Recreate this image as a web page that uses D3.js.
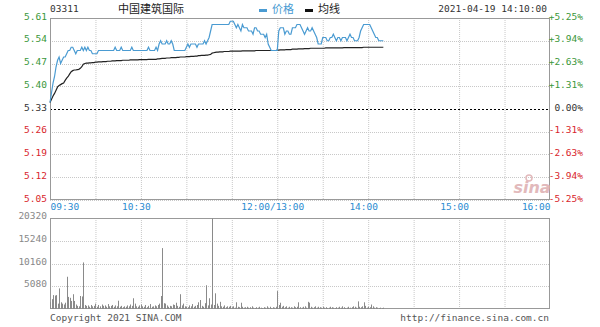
<!DOCTYPE html>
<html lang="zh">
<head>
<meta charset="utf-8">
<title>03311 中国建筑国际</title>
<script src="https://d3js.org/d3.v7.min.js"></script>
<style>
  body { margin: 0; background: #fff; }
  svg { display: block; }
</style>
</head>
<body>
<script>

// minute index from 09:30 (morning 0..150, afternoon continues at 150 = 13:00)
var priceVals = [
  5.35, 5.38, 5.41, 5.43, 5.46, 5.48, 5.49, 5.47, 5.48, 5.49,
  5.49, 5.50, 5.51, 5.51, 5.52, 5.52, 5.51, 5.50, 5.51, 5.51,
  5.51, 5.52, 5.51, 5.52, 5.51, 5.52, 5.51, 5.51, 5.50, 5.50,
  5.50, 5.50, 5.51, 5.51, 5.51, 5.51, 5.51, 5.51, 5.51, 5.51,
  5.51, 5.51, 5.51, 5.52, 5.51, 5.51, 5.51, 5.52, 5.51, 5.51,
  5.51, 5.51, 5.51, 5.51, 5.52, 5.51, 5.51, 5.51, 5.51, 5.51,
  5.51, 5.51, 5.51, 5.51, 5.51, 5.52, 5.51, 5.51, 5.51, 5.51,
  5.52, 5.51, 5.53, 5.54, 5.53, 5.53, 5.53, 5.54, 5.53, 5.53,
  5.54, 5.53, 5.51, 5.51, 5.51, 5.51, 5.51, 5.51, 5.51, 5.51,
  5.52, 5.53, 5.52, 5.53, 5.53, 5.53, 5.53, 5.52, 5.53, 5.53,
  5.53, 5.53, 5.54, 5.53, 5.54, 5.55, 5.57, 5.59, 5.59, 5.59,
  5.59, 5.59, 5.59, 5.59, 5.59, 5.59, 5.59, 5.59, 5.59, 5.60,
  5.60, 5.60, 5.59, 5.58, 5.59, 5.58, 5.57, 5.59, 5.58, 5.58,
  5.58, 5.57, 5.57, 5.57, 5.56, 5.58, 5.58, 5.57, 5.57, 5.56,
  5.56, 5.56, 5.55, 5.56, 5.53, 5.52, 5.51, 5.51, 5.51, 5.51,
  5.51, 5.57, 5.58, 5.58, 5.58, 5.56, 5.57, 5.57, 5.56, 5.56,
  5.58, 5.58, 5.58, 5.59, 5.59, 5.59, 5.58, 5.57, 5.56, 5.57,
  5.58, 5.57, 5.57, 5.58, 5.57, 5.56, 5.55, 5.53, 5.53, 5.53,
  5.55, 5.55, 5.55, 5.54, 5.54, 5.55, 5.55, 5.56, 5.55, 5.54,
  5.55, 5.55, 5.54, 5.55, 5.55, 5.55, 5.54, 5.55, 5.56, 5.55,
  5.55, 5.54, 5.54, 5.54, 5.55, 5.57, 5.58, 5.59, 5.59, 5.59,
  5.59, 5.59, 5.58, 5.57, 5.56, 5.55, 5.55, 5.54, 5.54, 5.54, 5.54
]

var avgVals = [
  5.350, 5.360, 5.370, 5.378, 5.388, 5.398, 5.402, 5.405, 5.408, 5.410,
  5.418, 5.425, 5.430, 5.438, 5.445, 5.448, 5.450, 5.450, 5.451, 5.452,
  5.455, 5.460, 5.468, 5.470, 5.471, 5.471, 5.472, 5.472, 5.473, 5.473,
  5.474, 5.474, 5.475, 5.475, 5.475, 5.476, 5.476, 5.476, 5.477, 5.477,
  5.477, 5.478, 5.478, 5.478, 5.479, 5.479, 5.479, 5.479, 5.480, 5.480,
  5.480, 5.480, 5.480, 5.481, 5.481, 5.481, 5.481, 5.481, 5.481, 5.482,
  5.482, 5.482, 5.482, 5.482, 5.482, 5.483, 5.483, 5.483, 5.483, 5.483,
  5.483, 5.484, 5.484, 5.485, 5.486, 5.486, 5.486, 5.487, 5.487, 5.487,
  5.488, 5.488, 5.488, 5.488, 5.489, 5.489, 5.490, 5.490, 5.490, 5.490,
  5.491, 5.491, 5.491, 5.492, 5.492, 5.492, 5.493, 5.493, 5.494, 5.494,
  5.495, 5.495, 5.495, 5.496, 5.496, 5.497, 5.498, 5.502, 5.503, 5.504,
  5.505, 5.505, 5.506, 5.506, 5.506, 5.507, 5.507, 5.507, 5.507, 5.508,
  5.508, 5.508, 5.508, 5.508, 5.508, 5.508, 5.508, 5.509, 5.509, 5.509,
  5.509, 5.509, 5.509, 5.509, 5.509, 5.509, 5.510, 5.510, 5.510, 5.510,
  5.510, 5.510, 5.510, 5.510, 5.510, 5.510, 5.510, 5.510, 5.510, 5.510,
  5.511, 5.511, 5.512, 5.512, 5.512, 5.512, 5.513, 5.513, 5.513, 5.513,
  5.514, 5.514, 5.514, 5.514, 5.515, 5.515, 5.515, 5.515, 5.516, 5.516,
  5.516, 5.516, 5.517, 5.517, 5.517, 5.517, 5.517, 5.517, 5.517, 5.517,
  5.517, 5.517, 5.518, 5.518, 5.518, 5.518, 5.518, 5.518, 5.518, 5.518,
  5.518, 5.518, 5.518, 5.518, 5.519, 5.519, 5.519, 5.519, 5.519, 5.519,
  5.519, 5.519, 5.519, 5.519, 5.519, 5.519, 5.519, 5.520, 5.520, 5.520,
  5.520, 5.520, 5.520, 5.520, 5.520, 5.520, 5.520, 5.520, 5.520, 5.520, 5.520
]

var volVals = [
  1500, 2200, 3100, 3000, 3100, 1200, 4600, 1500, 1200, 1000,
  1400, 7200, 2700, 2500, 1800, 3300, 1800, 1000, 700, 600,
  2900, 2800, 10400, 900, 700, 800, 500, 900, 600, 700,
  1200, 500, 900, 600, 1000, 700, 800, 500, 1100, 600,
  700, 900, 500, 800, 600, 1850, 500, 700, 400, 600,
  500, 800, 600, 1000, 700, 2400, 1200, 600, 500, 800,
  1000, 600, 500, 900, 400, 700, 1100, 500, 600, 800,
  600, 900, 1200, 2900, 13600, 1300, 1200, 800, 500, 700,
  600, 1000, 900, 1400, 700, 500, 3300, 800, 1200, 600,
  500, 400, 800, 600, 1100, 500, 700, 900, 1500, 2000,
  700, 500, 1300, 5300, 800, 2400, 1000, 20200, 900, 3500,
  1200, 700, 1600, 600, 500, 800, 400, 600, 500, 700,
  400, 600, 300, 1500, 500, 400, 1400, 500, 300, 400,
  500, 300, 400, 600, 300, 200, 400, 300, 500, 300,
  200, 400, 300, 600, 300, 500, 200, 400, 300, 500,
  4000, 900, 1400, 500, 700, 400, 600, 300, 500, 400,
  300, 600, 400, 500, 1500, 400, 300, 500, 600, 300,
  1600, 1400, 500, 300, 400, 600, 300, 500, 400, 300,
  500, 300, 400, 200, 300, 500, 400, 300, 200, 400,
  300, 500, 300, 600, 400, 200, 300, 500, 300, 400,
  600, 500, 300, 1700, 500, 400, 600, 1500, 700, 300,
  500, 400, 1000, 600, 300, 400, 300, 200, 300, 200, 300
]

var priceTicks = [5.61, 5.54, 5.47, 5.40, 5.33, 5.26, 5.19, 5.12, 5.05]
var pctTicks = ["+5.25%", "+3.94%", "+2.63%", "+1.31%", "0.00%", "-1.31%", "-2.63%", "-3.94%", "-5.25%"]
var timeTickMins = [0, 60, 150, 210, 270, 330]
var timeTickLabels = ["09:30", "10:30", "12:00/13:00", "14:00", "15:00", "16:00"]
var volTicks = [20320, 15240, 10160, 5080]
var prevClose = 5.33

var w = 600, h = 327
var mono = "'DejaVu Sans Mono', monospace"
var blue = "#4a9bd2", green = "#3b973b", red = "#d8262c"

var svg = d3.select("body").append("svg").attr("width", w).attr("height", h)

var x = d3.scaleLinear().domain([0, 330]).range([50, 550])
var yP = d3.scaleLinear().domain([5.05, 5.61]).range([200, 18])
var yV = d3.scaleLinear().domain([0, 20320]).range([309, 218])

function tickColor(v) {
    if (v > prevClose + 0.001) return green
    if (v < prevClose - 0.001) return red
    return "#333"
}

// grid
var gridMins = d3.range(30, 330, 30)
function vGrid(y0, y1) {
    svg.append("g").selectAll("line").data(gridMins).enter().append("line")
        .attr("x1", d => x(d) + 0.5).attr("x2", d => x(d) + 0.5)
        .attr("y1", y0).attr("y2", y1)
        .attr("stroke", "#c8c8c8").attr("stroke-dasharray", "1,1")
}
vGrid(18, 200)
vGrid(218, 309)

svg.append("g").selectAll("line").data(priceTicks.filter(d => d != prevClose)).enter().append("line")
    .attr("x1", 50).attr("x2", 550)
    .attr("y1", d => Math.round(yP(d)) + 0.5).attr("y2", d => Math.round(yP(d)) + 0.5)
    .attr("stroke", "#c8c8c8").attr("stroke-dasharray", "1,1")

svg.append("g").selectAll("line").data(volTicks.slice(1)).enter().append("line")
    .attr("x1", 50).attr("x2", 550)
    .attr("y1", d => Math.round(yV(d)) + 0.5).attr("y2", d => Math.round(yV(d)) + 0.5)
    .attr("stroke", "#c8c8c8").attr("stroke-dasharray", "1,1")

svg.append("line").attr("x1", 50).attr("x2", 550)
    .attr("y1", Math.round(yP(prevClose)) + 0.5).attr("y2", Math.round(yP(prevClose)) + 0.5)
    .attr("stroke", "#000").attr("stroke-dasharray", "2,2")

// borders
svg.append("rect").attr("x", 50.5).attr("y", 18.5).attr("width", 499).attr("height", 181)
    .attr("fill", "none").attr("stroke", "#999")
svg.append("rect").attr("x", 50.5).attr("y", 218.5).attr("width", 499).attr("height", 90)
    .attr("fill", "none").attr("stroke", "#999")

// sina mark
svg.append("text").attr("x", 532).attr("y", 193).attr("text-anchor", "middle")
    .attr("font-family", "'DejaVu Sans', sans-serif").attr("font-size", 16)
    .attr("font-style", "italic").attr("font-weight", "bold")
    .attr("fill", "#e2b9bb").text("sina")
svg.append("circle").attr("cx", 529).attr("cy", 178).attr("r", 3)
    .attr("fill", "none").attr("stroke", "#e2b9bb").attr("stroke-width", 1.5)

// volume bars
svg.append("g").selectAll("line").data(volVals).enter().append("line")
    .attr("x1", (d, i) => Math.round(x(i)) + 0.5).attr("x2", (d, i) => Math.round(x(i)) + 0.5)
    .attr("y1", 309).attr("y2", d => yV(d))
    .attr("stroke", "#8a8a8a").attr("stroke-width", 1)

// lines
var line = d3.line().x((d, i) => x(i)).y(d => yP(d))
svg.append("path").datum(avgVals).attr("d", line)
    .attr("fill", "none").attr("stroke", "#222").attr("stroke-width", 1.2)
svg.append("path").datum(priceVals).attr("d", line)
    .attr("fill", "none").attr("stroke", blue).attr("stroke-width", 1.2)

// axes
function styleAxis(g) {
    g.select(".domain").remove()
    g.attr("font-family", mono).attr("font-size", 9.5)
}

var ax1 = svg.append("g").attr("transform", "translate(47,-2)")
    .call(d3.axisLeft(yP).tickValues(priceTicks).tickSize(0).tickPadding(0).tickFormat(d3.format(".2f")))
styleAxis(ax1)
ax1.selectAll("text").attr("fill", d => tickColor(d))

var ax2 = svg.append("g").attr("transform", "translate(583,-2)")
    .call(d3.axisRight(yP).tickValues(priceTicks).tickSize(0).tickPadding(0)
        .tickFormat((d, i) => pctTicks[i]))
styleAxis(ax2)
ax2.selectAll("text").attr("text-anchor", "end").attr("fill", d => tickColor(d))

var ax3 = svg.append("g").attr("transform", "translate(0,200)")
    .call(d3.axisBottom(x).tickValues(timeTickMins).tickSize(0).tickPadding(3)
        .tickFormat((d, i) => timeTickLabels[i]))
styleAxis(ax3)
ax3.selectAll("text").attr("fill", "#2b8bd0")
    .attr("text-anchor", (d, i) => i == 0 ? "start" : (i == timeTickMins.length - 1 ? "end" : "middle"))
    .attr("dx", (d, i) => (i == 0 || i == timeTickMins.length - 1) ? 0 : -5)

var ax4 = svg.append("g").attr("transform", "translate(47,-2.5)")
    .call(d3.axisLeft(yV).tickValues(volTicks).tickSize(0).tickPadding(0))
styleAxis(ax4)
ax4.selectAll("text").attr("fill", "#888").text(d => d)

// header
svg.append("text").attr("x", 50).attr("y", 11.5).attr("font-family", mono).attr("font-size", 9.5)
    .attr("fill", "#333").text("03311")
svg.append("text").attr("x", 118).attr("y", 12.5).attr("font-family", "'Noto Sans CJK SC', sans-serif")
    .attr("font-size", 11).attr("fill", "#222").text("中国建筑国际")

svg.append("rect").attr("x", 259).attr("y", 9).attr("width", 8).attr("height", 3).attr("fill", blue)
svg.append("text").attr("x", 272).attr("y", 12.5).attr("font-family", "'Noto Sans CJK SC', sans-serif")
    .attr("font-size", 11).attr("fill", blue).text("价格")
svg.append("rect").attr("x", 305).attr("y", 9).attr("width", 8).attr("height", 3).attr("fill", "#111")
svg.append("text").attr("x", 318).attr("y", 12.5).attr("font-family", "'Noto Sans CJK SC', sans-serif")
    .attr("font-size", 11).attr("fill", "#222").text("均线")

svg.append("text").attr("x", 547).attr("y", 11.5).attr("text-anchor", "end")
    .attr("font-family", mono).attr("font-size", 9.5).attr("fill", "#333").text("2021-04-19 14:10:00")

// footer
svg.append("text").attr("x", 50).attr("y", 320.5).attr("font-family", mono).attr("font-size", 9.5)
    .attr("fill", "#555").text("Copyright 2021 SINA.COM")
svg.append("text").attr("x", 549).attr("y", 320.5).attr("text-anchor", "end")
    .attr("font-family", mono).attr("font-size", 9.5).attr("fill", "#555").text("http://finance.sina.com.cn")

</script>
</body>
</html>
